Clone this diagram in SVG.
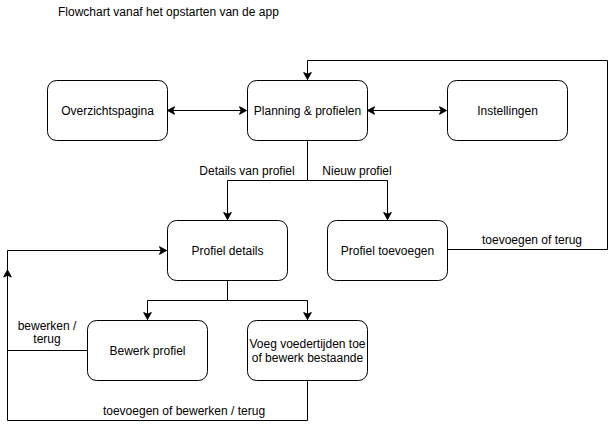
<svg xmlns="http://www.w3.org/2000/svg" width="616" height="429" viewBox="0 0 616 429">
<style>
.node rect{fill:#fff;stroke:#000;stroke-width:1}
text{font-family:"Liberation Sans",Arial,Helvetica,sans-serif;font-size:12px;fill:#000}
.c{text-anchor:middle}
.edge{fill:none;stroke:#000;stroke-width:1}
.arr{marker-end:url(#ah)}
.both{marker-start:url(#ah);marker-end:url(#ah)}
</style>
<defs>
<marker id="ah" markerUnits="userSpaceOnUse" markerWidth="10" markerHeight="10" viewBox="0 0 10 10" refX="8" refY="5" orient="auto-start-reverse">
<path d="M1,1.2 L8,5 L1,8.8 L2.8,5 Z" fill="#000" stroke="#000" stroke-width="1"/>
</marker>
</defs>
<rect width="616" height="429" fill="#fff"/>
<text x="58" y="16">Flowchart vanaf het opstarten van de app</text>
<g id="connectors">
<path class="edge both" d="M167.5,110.5 H246.5"/>
<path class="edge both" d="M367.5,110.5 H446.5"/>
<path class="edge arr" d="M307.5,140 V180.5 H227.5 V219.5"/>
<path class="edge arr" d="M307.5,180.5 H387.5 V219.5"/>
<path class="edge arr" d="M447,249.5 H607.5 V60.5 H307.5 V79.5"/>
<path class="edge arr" d="M227.5,280 V300.5 H147.5 V319.5"/>
<path class="edge arr" d="M227.5,300.5 H307.5 V319.5"/>
<path class="edge arr" d="M87,350.5 H7.5 V250.5 H166.5"/>
<path class="edge arr" d="M307.5,380 V420.5 H7.5 V270"/>
<text class="c" x="247" y="175">Details van profiel</text>
<text class="c" x="357" y="175">Nieuw profiel</text>
<text class="c" x="532" y="244">toevoegen of terug</text>
<text class="c" x="47" y="330">bewerken /</text>
<text class="c" x="47" y="343">terug</text>
<text class="c" x="184" y="415">toevoegen of bewerken / terug</text>
</g>
<g id="overzicht" class="node"><rect x="47.5" y="80.5" width="120" height="60" rx="9"/><text class="c" x="107.5" y="114.5">Overzichtspagina</text></g>
<g id="planning" class="node"><rect x="247.5" y="80.5" width="120" height="60" rx="9"/><text class="c" x="307.5" y="114.5">Planning &amp; profielen</text></g>
<g id="instellingen" class="node"><rect x="447.5" y="80.5" width="120" height="60" rx="9"/><text class="c" x="507.5" y="114.5">Instellingen</text></g>
<g id="profieldetails" class="node"><rect x="167.5" y="220.5" width="120" height="60" rx="9"/><text class="c" x="227.5" y="254.5">Profiel details</text></g>
<g id="profieltoevoegen" class="node"><rect x="327.5" y="220.5" width="120" height="60" rx="9"/><text class="c" x="387.5" y="254.5">Profiel toevoegen</text></g>
<g id="bewerkprofiel" class="node"><rect x="87.5" y="320.5" width="120" height="60" rx="9"/><text class="c" x="147.5" y="354.5">Bewerk profiel</text></g>
<g id="voeg" class="node"><rect x="247.5" y="320.5" width="120" height="60" rx="9"/><text class="c" x="307.5" y="347.5">Voeg voedertijden toe</text><text class="c" x="307.5" y="361.5">of bewerk bestaande</text></g>
</svg>
